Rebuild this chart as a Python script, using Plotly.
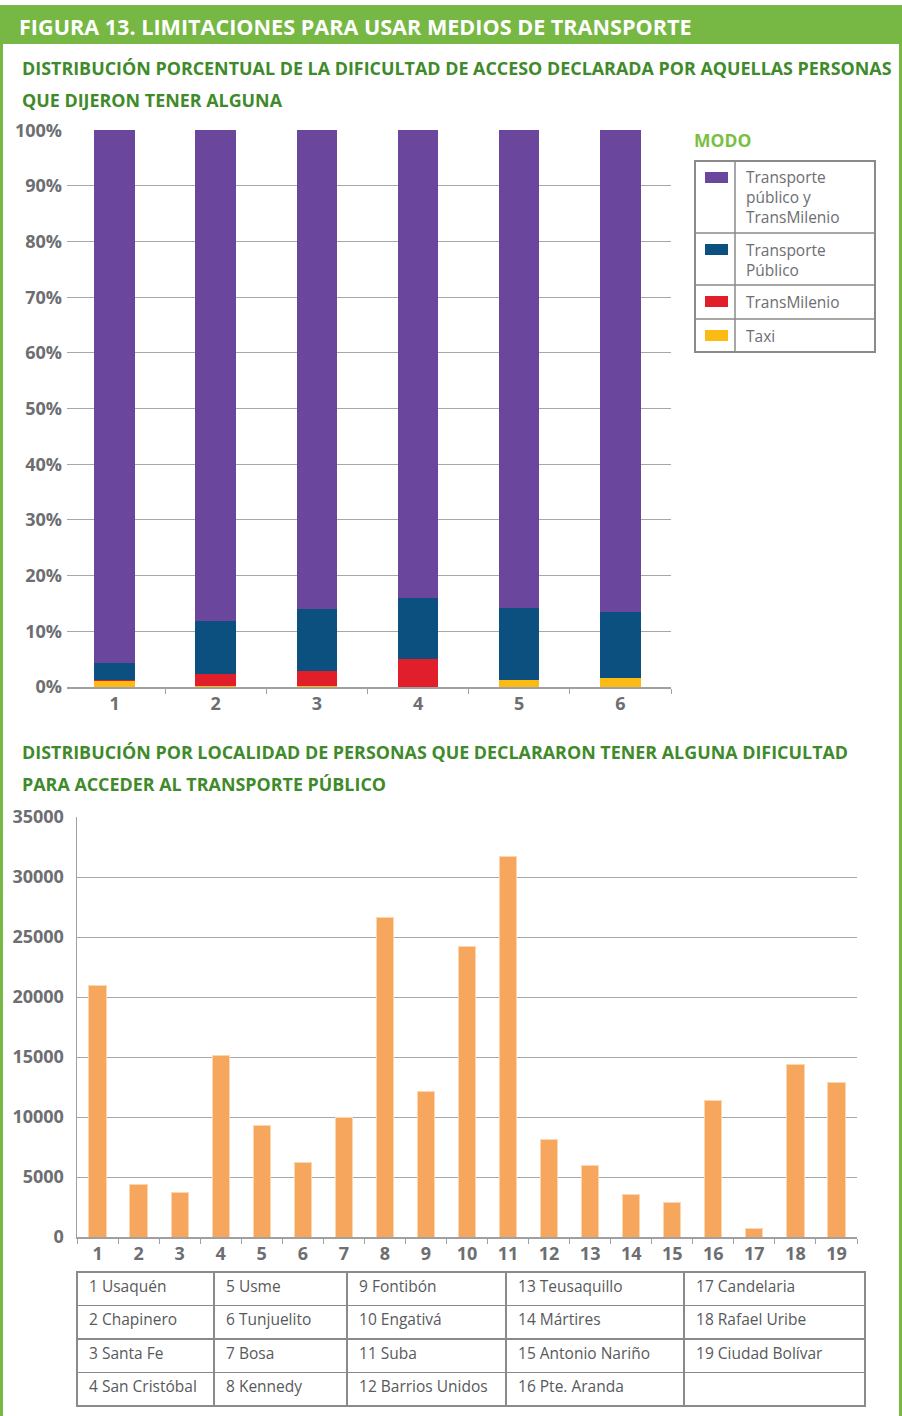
import plotly.graph_objects as go

W, H = 902, 1416

# ---------------- data ----------------
groups = ["1", "2", "3", "4", "5", "6"]
modes = ["Transporte público y TransMilenio", "Transporte Público", "TransMilenio", "Taxi"]
mode_labels = ["Transporte<br>público y<br>TransMilenio", "Transporte<br>Público", "TransMilenio", "Taxi"]
mode_colors = ["#6A479C", "#0B507F", "#E01F2B", "#FBBA14"]
taxi = [1.1, 0.1, 0.2, 0.0, 1.3, 1.7]
transmilenio = [0.1, 2.3, 2.7, 5.0, 0.0, 0.0]
transporte_publico = [3.1, 9.5, 11.1, 10.9, 12.9, 11.7]
publico_y_tm = [95.7, 88.1, 86.0, 84.1, 85.8, 86.6]
pct_ticks = list(range(0, 101, 10))
pct_labels = [f"{v}%" for v in pct_ticks]

localidades = [str(i) for i in range(1, 20)]
personas = [21000, 4400, 3700, 15100, 9300, 6200, 10000, 26600, 12150, 24250,
            31700, 8150, 5950, 3550, 2850, 11400, 700, 14350, 12900]
nombres = ["Usaquén", "Chapinero", "Santa Fe", "San Cristóbal", "Usme", "Tunjuelito",
           "Bosa", "Kennedy", "Fontibón", "Engativá", "Suba", "Barrios Unidos",
           "Teusaquillo", "Mártires", "Antonio Nariño", "Pte. Aranda", "Candelaria",
           "Rafael Uribe", "Ciudad Bolívar"]

# ---------------- helpers ----------------
def px(x):
    return x / W

def py(y):
    return 1 - y / H

FONT = "Open Sans"
GRAY = "#6D6E71"
GRID = "#A8A8A8"

fig = go.Figure()

# stacked bars (bottom to top)
stack = [(modes[3], taxi, mode_colors[3]),
         (modes[2], transmilenio, mode_colors[2]),
         (modes[1], transporte_publico, mode_colors[1]),
         (modes[0], publico_y_tm, mode_colors[0])]
for name, vals, col in stack:
    fig.add_trace(go.Bar(x=groups, y=vals, name=name, marker=dict(color=col, line=dict(width=0)),
                         width=0.40, xaxis="x", yaxis="y", showlegend=False))

fig.add_trace(go.Bar(x=localidades, y=personas, marker=dict(color="#F7A65D", line=dict(color="#FCD6AE", width=1)),
                     width=0.42, xaxis="x2", yaxis="y2", showlegend=False))

# table of localities
rows = 4
cols = 5
table_cols = []
for c in range(cols):
    col = []
    for r in range(rows):
        i = c * rows + r
        col.append(f"\u00a0{i+1} {nombres[i]}" if i < len(nombres) else "")
    table_cols.append(col)

TFONT = dict(family=FONT, size=15.5, color="#58595B")
fig.add_trace(go.Table(
    domain=dict(x=[px(77), px(865)], y=[py(1407), py(1272)]),
    columnwidth=[137, 133, 159, 178, 181],
    header=dict(values=[c[0] for c in table_cols], height=33.5, align="left",
                fill_color="white", line=dict(color="#8A8A8A", width=1.5), font=TFONT),
    cells=dict(values=[c[1:] for c in table_cols], height=33.5, align="left",
               fill_color="white", line=dict(color="#8A8A8A", width=1.5), font=TFONT),
))

shapes = []
annotations = []

# header band and frame
shapes.append(dict(type="rect", xref="paper", yref="paper", x0=0, x1=1, y0=py(44), y1=py(5),
                   fillcolor="#76B843", line=dict(width=0), layer="below"))
shapes.append(dict(type="rect", xref="paper", yref="paper", x0=0, x1=px(3), y0=0, y1=py(44),
                   fillcolor="#76B843", line=dict(width=0), layer="below"))
shapes.append(dict(type="rect", xref="paper", yref="paper", x0=px(899), x1=1, y0=0, y1=py(44),
                   fillcolor="#76B843", line=dict(width=0), layer="below"))

annotations.append(dict(text="<b>FIGURA 13. LIMITACIONES PARA USAR MEDIOS DE TRANSPORTE</b>",
                        x=px(17), y=py(26), xref="paper", yref="paper", xanchor="left", yanchor="middle",
                        showarrow=False, font=dict(family=FONT, size=21.6, color="white")))

SUB = "#3F8A2B"
for txt, yy in [("DISTRIBUCIÓN PORCENTUAL DE LA DIFICULTAD DE ACCESO DECLARADA POR AQUELLAS PERSONAS", 68),
                ("QUE DIJERON TENER ALGUNA", 100),
                ("DISTRIBUCIÓN POR LOCALIDAD DE PERSONAS QUE DECLARARON TENER ALGUNA DIFICULTAD", 752),
                ("PARA ACCEDER AL TRANSPORTE PÚBLICO", 784)]:
    annotations.append(dict(text=f"<b>{txt}</b>", x=px(20), y=py(yy), xref="paper", yref="paper",
                            xanchor="left", yanchor="middle", showarrow=False,
                            font=dict(family=FONT, size=17.9, color=SUB)))

# legend table
annotations.append(dict(text="<b>MODO</b>", x=px(692), y=py(140), xref="paper", yref="paper",
                        xanchor="left", yanchor="middle", showarrow=False,
                        font=dict(family=FONT, size=17.5, color="#7ABF43")))
LX0, LX1, LXD = 695, 875, 735
row_edges = [161, 233, 285, 319, 352]
shapes.append(dict(type="rect", xref="paper", yref="paper", x0=px(LX0), x1=px(LX1),
                   y0=py(row_edges[-1]), y1=py(row_edges[0]), line=dict(color="#8A8A8A", width=2)))
for ye in row_edges[1:-1]:
    shapes.append(dict(type="line", xref="paper", yref="paper", x0=px(LX0), x1=px(LX1),
                       y0=py(ye), y1=py(ye), line=dict(color="#8A8A8A", width=1.5)))
shapes.append(dict(type="line", xref="paper", yref="paper", x0=px(LXD), x1=px(LXD),
                   y0=py(row_edges[-1]), y1=py(row_edges[0]), line=dict(color="#8A8A8A", width=1.5)))
text_centers = [197, 259.5, 302, 336]
first_line = [178, 250, 302, 336]
for lab, col, yc, yf in zip(mode_labels, mode_colors, text_centers, first_line):
    shapes.append(dict(type="rect", xref="paper", yref="paper", x0=px(705), x1=px(728),
                       y0=py(yf + 5), y1=py(yf - 6), fillcolor=col, line=dict(width=0)))
    annotations.append(dict(text=lab, x=px(744), y=py(yc), xref="paper", yref="paper",
                            xanchor="left", yanchor="middle", align="left", showarrow=False,
                            font=dict(family=FONT, size=15.5, color=GRAY)))

# outer border of locality table
shapes.append(dict(type="rect", xref="paper", yref="paper", x0=px(77), x1=px(865),
                   y0=py(1406), y1=py(1272), line=dict(color="#8A8A8A", width=2)))

tickfont = dict(family=FONT, size=18, color=GRAY, weight="bold")

fig.update_layout(
    template="none",
    width=W, height=H, autosize=False,
    margin=dict(l=0, r=0, t=0, b=0, pad=0, autoexpand=False),
    paper_bgcolor="white", plot_bgcolor="white",
    barmode="stack", showlegend=False,
    font=dict(family=FONT, color=GRAY),
    shapes=shapes, annotations=annotations,
    xaxis=dict(domain=[px(67), px(671)], type="category", tickson="boundaries", automargin=False,
               range=[-0.47, 5.5],
               ticks="outside", ticklen=5, tickcolor="#A0A0A0", showline=True, linecolor="#A0A0A0",
               linewidth=1.5, tickfont=tickfont, anchor="y", showgrid=False, fixedrange=True),
    yaxis=dict(domain=[py(687), py(130)], range=[0, 100.05], tickvals=pct_ticks, ticktext=pct_labels,
               tickmode="array", showgrid=True, gridcolor=GRID, gridwidth=1, tickfont=tickfont,
               automargin=False, ticks="", ticklabelstandoff=4, showline=False, zeroline=False,
               anchor="x", fixedrange=True),
    xaxis2=dict(domain=[px(77), px(857)], type="category", tickson="boundaries", automargin=False,
                ticks="outside", ticklen=5, tickcolor="#A0A0A0", showline=True, linecolor="#A0A0A0",
                linewidth=1.5, tickfont=tickfont, anchor="y2", showgrid=False, fixedrange=True),
    yaxis2=dict(domain=[py(1237), py(817)], range=[0, 35000], dtick=5000, showgrid=True,
                gridcolor=GRID, gridwidth=1, tickfont=tickfont, ticklabelstandoff=8, ticks="",
                showline=True, linecolor="#A0A0A0", linewidth=1.5, zeroline=False, automargin=False,
                anchor="x2", fixedrange=True, tickformat="d"),
)

post = ("var gd=document.getElementById('{plot_id}');"
        "document.documentElement.style.margin='0';document.body.style.margin='0';"
        "document.body.style.padding='0';document.body.style.overflow='hidden';"
        "gd.style.position='absolute';gd.style.left='0px';gd.style.top='0px';")

fig.write_html("out.html", post_script=post, config={"displayModeBar": False, "staticPlot": True})
